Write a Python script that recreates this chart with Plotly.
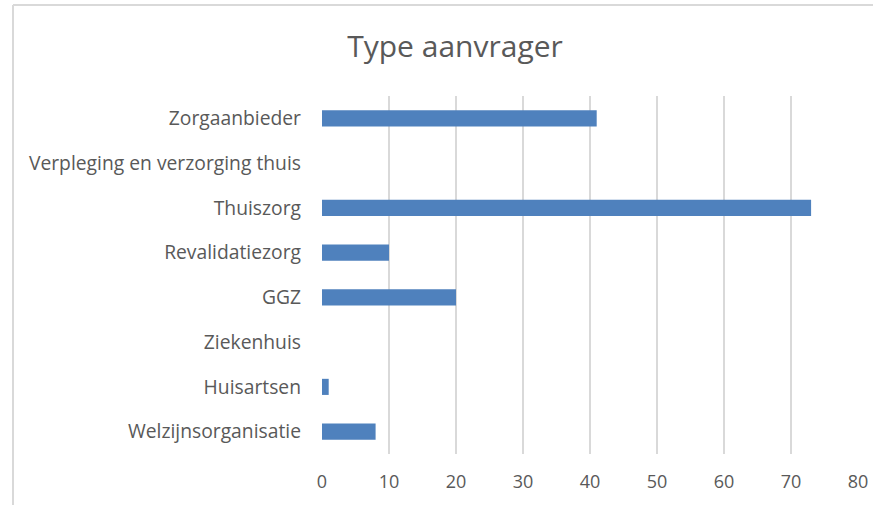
import plotly.graph_objects as go

categories = ["Welzijnsorganisatie", "Huisartsen", "Ziekenhuis", "GGZ",
              "Revalidatiezorg", "Thuiszorg", "Verpleging en verzorging thuis", "Zorgaanbieder"]
values = [8, 1, 0, 20, 10, 73, 0, 41]
x_ticks = [0, 10, 20, 30, 40, 50, 60, 70, 80]

FONT = "Open Sans"
GREY = "#595959"

fig = go.Figure(go.Bar(
    y=categories, x=values, orientation="h",
    marker=dict(color="#4F81BD", line=dict(width=0)),
    width=0.36,
))

W, H = 873, 505
L, R, T, B = 322, 15, 96, 51
pw = W - L - R
ph = H - T - B

fig.update_layout(
    width=W, height=H,
    margin=dict(l=L, r=R, t=T, b=B, autoexpand=False),
    paper_bgcolor="white", plot_bgcolor="white",
    showlegend=False,
    title=dict(text="Type aanvrager", x=455 / W, xanchor="center", xref="container",
               y=1 - 46 / H, yanchor="middle", yref="container",
               font=dict(family=FONT, size=30, color=GREY)),
    xaxis=dict(range=[0, 80], tickvals=x_ticks, showgrid=True, gridcolor="#d9d9d9",
               gridwidth=1.5, zeroline=False, showline=False, ticks="",
               tickfont=dict(family=FONT, size=18, color=GREY), ticklabelstandoff=15,
               automargin=False),
    yaxis=dict(showgrid=False, zeroline=False, showline=False, ticks="",
               tickfont=dict(family=FONT, size=19.3, color=GREY), ticklabelstandoff=20,
               range=[-0.5, 7.5], automargin=False),
    bargap=0.64,
)

# chart border (left and top edges visible)
x_left = (13 - L) / pw
y_top = (H - B - 5) / ph
fig.add_shape(type="line", xref="paper", yref="paper", x0=x_left, x1=x_left,
              y0=-0.3, y1=y_top, line=dict(color="#d9d9d9", width=2))
fig.add_shape(type="line", xref="paper", yref="paper", x0=x_left, x1=1.2,
              y0=y_top, y1=y_top, line=dict(color="#d9d9d9", width=2))

fig.write_html("out.html", config={"displayModeBar": False},
               post_script="document.body.style.margin='0';")
